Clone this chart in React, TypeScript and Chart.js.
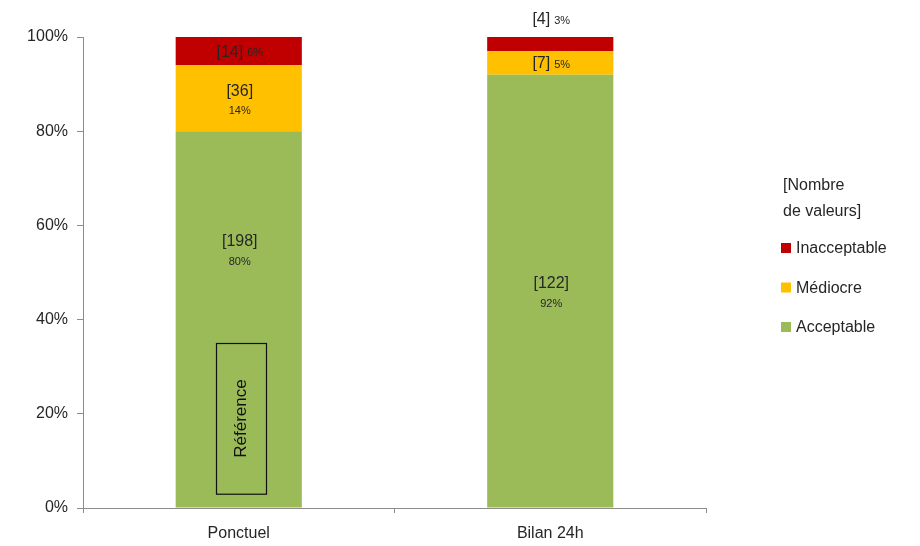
import React, { useEffect, useRef } from "react";
import { Chart, registerables } from "chart.js";

Chart.register(...registerables);

const categories = ["Ponctuel", "Bilan 24h"];
const seriesNames = ["Acceptable", "Médiocre", "Inacceptable"];
const seriesColors = ["#9BBB59", "#FFC000", "#C00000"];
const acceptablePct = [80, 92];
const mediocrePct = [14, 5];
const inacceptablePct = [6, 3];
const acceptableCount = [198, 122];
const mediocreCount = [36, 7];
const inacceptableCount = [14, 4];
const yTicks = [0, 20, 40, 60, 80, 100];
const legendTitle = ["[Nombre", "de valeurs]"];
const referenceText = "Référence";
const referenceRange = [3, 35];

const FONT = "'Liberation Sans', Arial, sans-serif";
const TEXT = "#262626";

const counts = [acceptableCount, mediocreCount, inacceptableCount];
const pcts = [acceptablePct, mediocrePct, inacceptablePct];

const labelPlugin = {
  id: "labelPlugin",
  afterDatasetsDraw(chart: any) {
    const ctx = chart.ctx;
    const yScale = chart.scales.y;
    ctx.save();
    ctx.fillStyle = TEXT;
    ctx.textBaseline = "middle";
    ctx.textAlign = "center";
    for (let d = 0; d < 3; d++) {
      const meta = chart.getDatasetMeta(d);
      meta.data.forEach((bar: any, i: number) => {
        const top = bar.y;
        const bottom = bar.base;
        const h = bottom - top;
        const cx = bar.x + 1;
        const c = "[" + counts[d][i] + "]";
        const p = pcts[d][i] + "%";
        const big = "16px " + FONT;
        const small = "11px " + FONT;
        if (h < 20) {
          drawInline(ctx, c, p, cx, top - 17, big, small);
        } else if (h < 40) {
          drawInline(ctx, c, p, cx, (top + bottom) / 2 + 1, big, small);
        } else {
          let cy = (top + bottom) / 2;
          if (d === 0 && i === 0) cy = yScale.getPixelForValue(55);
          ctx.font = big;
          ctx.fillText(c, cx, cy - 7);
          ctx.font = small;
          ctx.fillText(p, cx, cy + 13);
        }
      });
    }
    // reference box
    const m0 = chart.getDatasetMeta(0).data[0];
    const bx = m0.x + 2;
    const yTop = yScale.getPixelForValue(referenceRange[1]);
    const yBot = yScale.getPixelForValue(referenceRange[0]);
    const bw = 50;
    ctx.strokeStyle = "#111";
    ctx.lineWidth = 1.2;
    ctx.strokeRect(Math.round(bx - bw / 2) + 0.5, Math.round(yTop) + 0.5, bw, yBot - yTop);
    ctx.save();
    ctx.translate(bx + 1, (yTop + yBot) / 2);
    ctx.rotate(-Math.PI / 2);
    ctx.font = "17px " + FONT;
    ctx.fillStyle = "#111";
    ctx.textAlign = "center";
    ctx.textBaseline = "middle";
    ctx.fillText(referenceText, 0, 0);
    ctx.restore();

    // legend
    const lx = 781;
    ctx.font = "16px " + FONT;
    ctx.textAlign = "left";
    ctx.fillStyle = TEXT;
    ctx.fillText(legendTitle[0], lx + 2, 186);
    ctx.fillText(legendTitle[1], lx + 2, 212);
    const order = [2, 1, 0];
    order.forEach((s, k) => {
      const y = 248 + k * 39.5;
      ctx.fillStyle = seriesColors[s];
      ctx.fillRect(lx, y - 5, 10, 10);
      ctx.fillStyle = TEXT;
      ctx.fillText(seriesNames[s], lx + 15, y + 1);
    });
    ctx.restore();
  },
};

function drawInline(ctx: any, c: string, p: string, cx: number, cy: number, big: string, small: string) {
  ctx.font = big;
  const w1 = ctx.measureText(c).width;
  ctx.font = small;
  const w2 = ctx.measureText(p).width;
  const gap = 4;
  const total = w1 + gap + w2;
  const x0 = cx - total / 2;
  ctx.textAlign = "left";
  ctx.font = big;
  ctx.fillText(c, x0, cy);
  ctx.font = small;
  ctx.fillText(p, x0 + w1 + gap, cy + 1);
  ctx.textAlign = "center";
}

export default function App() {
  const ref = useRef<HTMLCanvasElement>(null);
  useEffect(() => {
    if (!ref.current) return;
    const chart = new Chart(ref.current, {
      type: "bar",
      data: {
        labels: categories,
        datasets: seriesNames.map((n, i) => ({
          label: n,
          data: pcts[i],
          backgroundColor: seriesColors[i],
          borderWidth: 0,
          categoryPercentage: 1,
          barPercentage: 0.405,
        })),
      },
      options: {
        responsive: false,
        animation: false,
        maintainAspectRatio: false,
        layout: { padding: { top: 37, right: 214, left: 0, bottom: 0 } },
        plugins: { legend: { display: false }, tooltip: { enabled: false } },
        scales: {
          x: {
            stacked: true,
            grid: { drawOnChartArea: false, drawTicks: true, tickLength: 5, color: "#8c8c8c", offset: true },
            border: { display: true, color: "#8c8c8c", width: 1 },
            ticks: { color: TEXT, font: { family: FONT, size: 16 }, padding: 11 },
            afterFit: (s: any) => { s.height = 38; },
          },
          y: {
            stacked: true,
            min: 0,
            max: 100,
            afterBuildTicks: (s: any) => { s.ticks = yTicks.map((v) => ({ value: v })); },
            grid: { drawOnChartArea: false, drawTicks: true, tickLength: 6, color: "#8c8c8c" },
            border: { display: true, color: "#8c8c8c", width: 1 },
            ticks: {
              color: TEXT,
              font: { family: FONT, size: 16 },
              padding: 9,
              callback: (v: any) => v + "%",
            },
            afterFit: (s: any) => { s.width = 83; },
          },
        },
      },
      plugins: [labelPlugin],
    });
    return () => chart.destroy();
  }, []);
  return (
    <div style={{ position: "absolute", left: 0, top: 0, width: 920, height: 546, background: "#fff" }}>
      <canvas ref={ref} width={920} height={546} />
    </div>
  );
}
